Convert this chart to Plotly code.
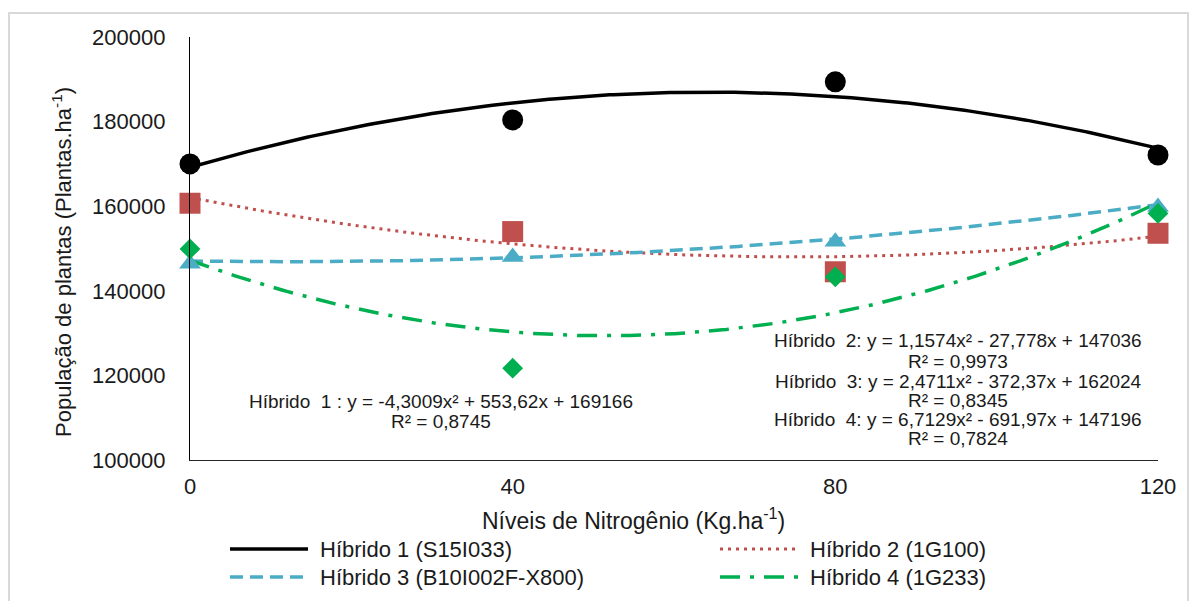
import numpy as np
import plotly.graph_objects as go

# ---------------- data ----------------
nitrogen = [0, 40, 80, 120]
hib1 = [170000, 180400, 189400, 172100]   # Híbrido 1 (S15I033)
hib2 = [160700, 154000, 144500, 153600]   # Híbrido 2 (1G100)
hib3 = [146400, 148000, 151600, 159800]   # Híbrido 3 (B10I002F-X800)
hib4 = [149900, 121700, 143300, 158300]   # Híbrido 4 (1G233)

# quadratic trend-line coefficients printed on the chart (a, b, c)
trend1 = [-4.3009, 553.62, 169166]
trend2 = [2.4711, -372.37, 162024]   # red curve
trend3 = [1.1574, -27.778, 147036]   # blue curve
trend4 = [6.7129, -691.97, 147196]

names = ["Híbrido 1 (S15I033)", "Híbrido 2 (1G100)",
         "Híbrido 3 (B10I002F-X800)", "Híbrido 4 (1G233)"]
eq_left = ["Híbrido  1 : y = -4,3009x² + 553,62x + 169166", "R² = 0,8745"]
eq_right = ["Híbrido  2: y = 1,1574x² - 27,778x + 147036", "R² = 0,9973",
            "Híbrido  3: y = 2,4711x² - 372,37x + 162024", "R² = 0,8345",
            "Híbrido  4: y = 6,7129x² - 691,97x + 147196", "R² = 0,7824"]
x_ticks = [0, 40, 80, 120]
y_ticks = [100000, 120000, 140000, 160000, 180000, 200000]

# ---------------- layout geometry ----------------
W, H = 1198, 601
L, R, T, B = 190, 40, 37, 141
PW, PH = W - L - R, H - T - B

def px(x):
    return (x - L) / PW

def py(y):
    return (H - B - y) / PH

colors = ["#000000", "#C0504D", "#4BACC6", "#00B050"]
dashes = ["solid", "3px,5px", "13px,7px", "20px,10px,4px,10px"]
widths = [3.5, 3, 3.5, 3.5]
symbols = ["circle", "square", "triangle-up", "diamond"]
msizes = [21, 21, 19, 16]
series = [hib1, hib2, hib3, hib4]
trends = [trend1, trend2, trend3, trend4]

fig = go.Figure()
xs = np.linspace(0, 120, 241)
for i in range(4):
    fig.add_trace(go.Scatter(x=xs, y=np.polyval(trends[i], xs), mode="lines",
                             line=dict(color=colors[i], width=widths[i], dash=dashes[i]),
                             showlegend=False, hoverinfo="skip"))
for i in range(4):
    fig.add_trace(go.Scatter(x=nitrogen, y=series[i], mode="markers", name=names[i],
                             marker=dict(symbol=symbols[i], size=msizes[i], color=colors[i],
                                         line=dict(width=0)),
                             showlegend=False, cliponaxis=False))

font = "Liberation Sans, Arial, sans-serif"
txtc = "#1a1a1a"
ann = []
# equations
ann.append(dict(x=px(441), y=py(401), text=eq_left[0]))
ann.append(dict(x=px(441), y=py(421), text=eq_left[1]))
ry = [341, 361, 381, 400, 419, 438]
for t, yy in zip(eq_right, ry):
    ann.append(dict(x=px(958), y=py(yy), text=t))
for a in ann:
    a.update(xref="paper", yref="paper", showarrow=False, xanchor="center",
             yanchor="middle", font=dict(family=font, size=19, color=txtc))

# axis titles
ann.append(dict(x=px(633), y=py(519), xref="paper", yref="paper", showarrow=False,
                text="Níveis de Nitrogênio (Kg.ha<sup>-1</sup>)", xanchor="center",
                yanchor="middle", font=dict(family=font, size=23, color=txtc)))
ann.append(dict(x=px(62), y=py(262), xref="paper", yref="paper", showarrow=False,
                text="População de plantas (Plantas.ha<sup>-1</sup>)", textangle=-90,
                xanchor="center", yanchor="middle",
                font=dict(family=font, size=22, color=txtc)))

# custom legend
shapes = []
leg_pos = [(230, 549), (720, 549), (230, 577), (720, 577)]
for i, (lx, ly) in enumerate(leg_pos):
    shapes.append(dict(type="line", xref="paper", yref="paper",
                       x0=px(lx), x1=px(lx + 78), y0=py(ly), y1=py(ly),
                       line=dict(color=colors[i], width=widths[i], dash=dashes[i])))
    ann.append(dict(x=px(lx + 88), y=py(ly), xref="paper", yref="paper", showarrow=False,
                    text=names[i], xanchor="left", yanchor="middle",
                    font=dict(family=font, size=22, color=txtc)))

# outer light frame
shapes.append(dict(type="rect", xref="paper", yref="paper", x0=px(9), x1=px(1188),
                   y0=py(610), y1=py(13), line=dict(color="#D9D9D9", width=2), layer="below"))

fig.update_layout(
    width=W, height=H, margin=dict(l=L, r=R, t=T, b=B, pad=0),
    paper_bgcolor="white", plot_bgcolor="white",
    annotations=ann, shapes=shapes, showlegend=False,
    xaxis=dict(range=[0, 120], tickvals=x_ticks, showgrid=False, zeroline=False,
               showline=True, linecolor="#262626", linewidth=1.2, ticks="",
               ticklabelstandoff=6,
               tickfont=dict(family=font, size=22, color=txtc)),
    yaxis=dict(range=[100000, 200000], tickvals=y_ticks, tickformat="d",
               showgrid=False, zeroline=False, showline=True, linecolor="#000000",
               linewidth=1.2, ticks="", ticklabelstandoff=19,
               tickfont=dict(family=font, size=22, color=txtc)),
)

fig.write_html("out.html", config={"displayModeBar": False},
               post_script="document.body.style.margin='0px';")
